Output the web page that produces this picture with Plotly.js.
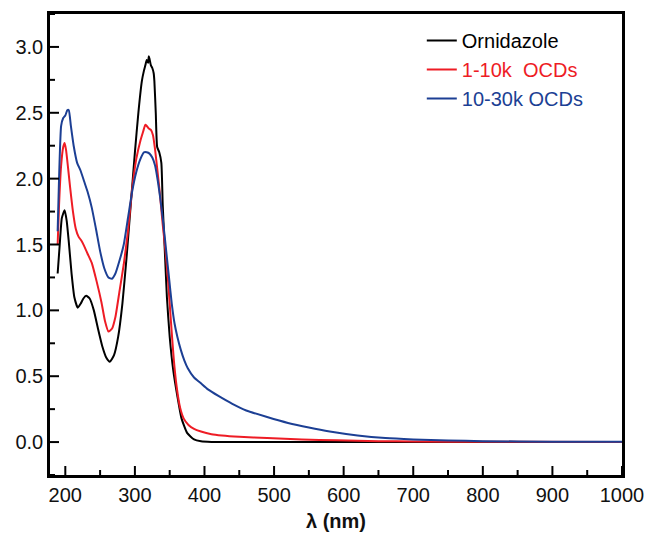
<!DOCTYPE html>
<html>
<head>
<meta charset="utf-8">
<script src="https://cdn.plot.ly/plotly-3.0.1.min.js"></script>
<style>html,body{margin:0;padding:0;background:#fff;}#chart{width:648px;height:539px;}</style>
</head>
<body>
<div id="chart"></div>
<script>
// Ornidazole
const ornX = [189,192,195,199,202,205,209,213,218,222,226,230,235,241,247,253,259,264,270,276,282,288,294,300,305,310,313,315,317,319,320,321,323,325,327,328,330,332,335,338,340,343,346,350,355,361,367,375,385,395,410,430,1000];
const ornY = [1.28,1.50,1.70,1.76,1.68,1.52,1.28,1.10,1.02,1.05,1.09,1.11,1.09,1.00,0.86,0.73,0.64,0.61,0.66,0.80,1.05,1.40,1.80,2.20,2.50,2.74,2.82,2.86,2.90,2.88,2.93,2.91,2.86,2.84,2.80,2.74,2.50,2.24,2.20,2.12,1.80,1.45,1.10,0.80,0.55,0.35,0.18,0.07,0.02,0.006,0.001,0,0];
// 1-10k OCDs
const ocd1X = [189,191,194,197,199,201,204,207,211,215,219,223,227,232,238,245,252,257,262,267,272,278,284,290,296,302,308,312,315,317,320,323,326,329,332,336,340,344,348,352,356,360,365,370,377,385,395,410,425,450,490,540,590,650,700,800,1000];
const ocd1Y = [1.50,1.80,2.10,2.24,2.27,2.22,2.08,1.93,1.75,1.62,1.56,1.53,1.49,1.43,1.36,1.22,1.06,0.92,0.84,0.86,0.95,1.15,1.35,1.60,1.92,2.15,2.29,2.36,2.41,2.40,2.38,2.37,2.33,2.22,2.08,1.88,1.65,1.45,1.20,0.90,0.62,0.42,0.26,0.18,0.13,0.10,0.08,0.06,0.05,0.04,0.03,0.02,0.013,0.007,0.004,0.002,0.001];
// 10-30k OCDs
const ocd2X = [189,191,194,197,200,203,205,208,212,217,222,227,232,238,244,250,256,262,267,272,278,284,290,296,302,308,313,317,321,325,329,333,337,341,345,349,353,357,361,366,371,376,385,394,405,420,440,460,490,520,550,580,620,660,700,750,800,900,1000];
const ocd2Y = [1.60,2.00,2.40,2.46,2.48,2.52,2.52,2.40,2.25,2.12,2.06,1.98,1.90,1.78,1.62,1.45,1.32,1.25,1.24,1.28,1.38,1.50,1.70,1.90,2.05,2.15,2.20,2.20,2.19,2.16,2.10,1.98,1.83,1.65,1.45,1.25,1.05,0.90,0.80,0.70,0.62,0.56,0.49,0.45,0.40,0.35,0.29,0.24,0.19,0.145,0.11,0.08,0.05,0.03,0.02,0.012,0.007,0.003,0.002];

const names = ['Ornidazole', '1-10k  OCDs', '10-30k OCDs'];
const colors = ['#000000', '#ee1c25', '#1c3f94'];
const xMajor = [200,300,400,500,600,700,800,900,1000];
const xMinor = [250,350,450,550,650,750,850,950];
const yMajor = [0,0.5,1.0,1.5,2.0,2.5,3.0];
const yMinor = [-0.25,0.25,0.75,1.25,1.75,2.25,2.75,3.25];
const xRange = [178, 1000];
const yRange = [-0.25, 3.25];

const W = 648, H = 539, M = {l: 50, r: 26, t: 14, b: 64};
const pw = W - M.l - M.r, ph = H - M.t - M.b;
const dyPx = (yRange[1] - yRange[0]) / ph;   // data units per pixel (y)
const dxPx = (xRange[1] - xRange[0]) / pw;   // data units per pixel (x)

const xs = [ornX, ocd1X, ocd2X];
const ys = [ornY, ocd1Y, ocd2Y];
const traces = xs.map((x, i) => ({
  x: x, y: ys[i], type: 'scatter', mode: 'lines',
  name: '<span style="color:' + colors[i] + '">' + names[i].replace('  ', '&nbsp; ') + '</span>',
  line: {color: colors[i], width: 2, shape: 'spline', smoothing: 0.5}
}));

// inward tick marks drawn as line traces through the axes' own scales
function xTickTrace(vals, lenPx) {
  const x = [], y = [];
  vals.forEach(v => { x.push(v, v, null); y.push(yRange[0], yRange[0] + lenPx * dyPx, null); });
  return {x, y, type: 'scatter', mode: 'lines', showlegend: false, hoverinfo: 'skip',
          line: {color: '#000', width: 2}, cliponaxis: false};
}
function yTickTrace(vals, lenPx) {
  const x = [], y = [];
  vals.forEach(v => { y.push(v, v, null); x.push(xRange[0], xRange[0] + lenPx * dxPx, null); });
  return {x, y, type: 'scatter', mode: 'lines', showlegend: false, hoverinfo: 'skip',
          line: {color: '#000', width: 2}, cliponaxis: false};
}
traces.push(xTickTrace(xMajor, 9), xTickTrace(xMinor, 5), yTickTrace(yMajor, 9), yTickTrace(yMinor, 5));

const font = 'Liberation Sans, Arial, sans-serif';
const layout = {
  width: W, height: H, margin: M,
  paper_bgcolor: '#fff', plot_bgcolor: '#fff',
  showlegend: true,
  legend: {x: 0.65, y: 0.985, xanchor: 'left', yanchor: 'top', bgcolor: 'rgba(0,0,0,0)',
           font: {family: font, size: 20, color: '#000'}, tracegroupgap: 0, itemwidth: 30},
  xaxis: {
    range: xRange, tickmode: 'array', tickvals: xMajor, ticktext: xMajor.map(String),
    ticks: '', showline: true, linewidth: 2.5, linecolor: '#000', mirror: true,
    showgrid: false, zeroline: false,
    tickfont: {family: font, size: 20, color: '#111'},
    title: {text: '<b>λ (nm)</b>', font: {family: font, size: 20, color: '#111'}, standoff: 10}
  },
  yaxis: {
    range: yRange, tickmode: 'array', tickvals: yMajor, ticktext: yMajor.map(v => v.toFixed(1)),
    ticks: '', showline: true, linewidth: 2.5, linecolor: '#000', mirror: true,
    showgrid: false, zeroline: false,
    tickfont: {family: font, size: 20, color: '#111'}
  }
};
Plotly.newPlot('chart', traces, layout, {displayModeBar: false});
</script>
</body>
</html>
